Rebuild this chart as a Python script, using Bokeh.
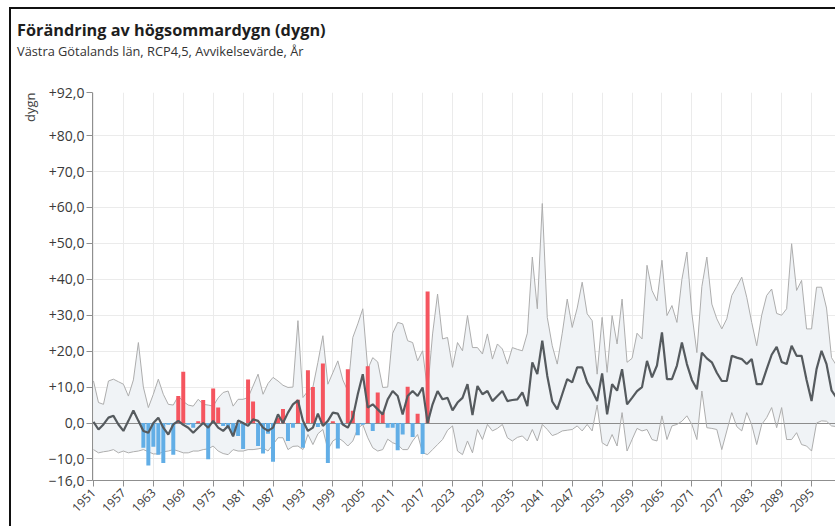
from math import pi
from bokeh.plotting import figure
from bokeh.models import FixedTicker, Div, ColumnDataSource, Range1d, Title
from bokeh.layouts import column
from bokeh.embed import file_html
from bokeh.resources import INLINE

FONT = "Open Sans"

years = list(range(1951, 2101))

median = [
    0.3, -1.8, -0.4, 1.5, 2.0, -0.4, -2.2, 0.6, 3.5, 0.6,
    -2.2, -2.7, 0.0, 1.5, -1.3, -3.2, -0.4, 0.6, -0.5, -1.3,
    -2.7, -1.3, 0.0, -1.3, 0.6, -1.3, -2.2, -0.8, -3.7, 0.7,
    0.0, -0.8, 1.0, 0.6, -1.3, -2.2, -1.3, 2.4, 0.0, 2.9,
    5.2, 6.3, 0.6, -2.2, -1.3, 2.6, -0.8, 0.6, 2.9, 2.6,
    -0.4, -1.3, 1.5, 8.0, 13.6, 4.3, 5.2, 3.8, 2.4, 6.6,
    8.9, 7.5, 2.4, 7.5, 8.9, 7.5, 9.9, 0.0, 5.2, 8.9,
    6.6, 7.0, 3.5, 5.7, 7.0, 10.8, 2.2, 10.3, 8.0, 8.9,
    6.1, 7.5, 8.9, 6.1, 6.4, 6.6, 8.5, 4.7, 16.9, 13.6,
    22.9, 13.1, 6.0, 3.8, 8.0, 12.2, 11.3, 15.5, 15.5, 11.3,
    9.0, 6.1, 13.8, 2.4, 10.8, 9.0, 15.0, 5.2, 7.0, 8.9,
    10.0, 17.3, 12.7, 16.0, 25.2, 12.2, 12.2, 16.0, 22.4, 16.4,
    12.0, 9.4, 19.6, 18.0, 16.9, 14.0, 11.7, 11.7, 18.7, 18.2,
    17.8, 16.4, 17.8, 10.8, 10.8, 15.0, 19.0, 21.2, 17.0, 16.4,
    21.5, 18.7, 18.7, 12.0, 6.1, 15.0, 20.1, 16.4, 9.1, 7.0,
]

upper = [
    11.7, 5.7, 5.2, 11.7, 12.2, 11.5, 10.8, 7.5, 12.0, 22.4,
    10.0, 4.3, 8.0, 12.2, 8.0, 5.2, 5.0, 7.5, 6.0, 5.0,
    4.7, 6.6, 5.2, 5.0, 4.7, 7.0, 8.5, 8.9, 4.7, 6.6,
    6.6, 7.1, 10.3, 13.6, 8.0, 11.0, 12.7, 11.7, 10.5, 9.9,
    10.0, 28.5, 7.1, 8.9, 10.0, 16.9, 24.3, 10.8, 14.0, 17.3,
    12.0, 8.9, 23.8, 27.6, 31.8, 15.0, 18.2, 17.0, 9.9, 10.0,
    25.0, 28.0, 27.6, 22.9, 22.4, 17.3, 20.1, 8.9, 24.8, 35.9,
    23.4, 23.8, 15.5, 22.4, 20.1, 29.9, 21.0, 21.0, 19.2, 24.8,
    17.8, 22.0, 20.6, 16.4, 21.0, 20.5, 20.1, 25.0, 46.2, 31.8,
    61.1, 29.4, 21.5, 16.4, 25.0, 34.5, 26.6, 32.0, 39.2, 30.4,
    28.5, 13.6, 29.4, 14.1, 29.9, 22.0, 34.5, 16.9, 18.0, 25.0,
    23.4, 43.9, 36.9, 34.0, 45.3, 29.9, 32.7, 28.0, 40.0, 47.6,
    30.4, 19.6, 38.0, 46.2, 33.1, 29.0, 26.2, 29.0, 35.5, 38.0,
    40.6, 35.0, 28.0, 21.5, 30.0, 35.5, 37.3, 30.5, 30.0, 31.8,
    49.9, 36.9, 39.7, 26.2, 26.2, 37.8, 37.8, 32.0, 18.2, 16.0,
]

lower = [
    -7.4, -8.3, -8.0, -7.8, -7.4, -8.3, -7.8, -8.3, -8.0, -7.8,
    -7.4, -8.0, -8.6, -8.6, -8.0, -7.8, -7.4, -7.8, -8.3, -8.3,
    -7.8, -7.8, -7.4, -7.2, -6.4, -7.8, -8.5, -8.8, -7.4, -7.8,
    -7.8, -7.4, -7.4, -7.2, -6.9, -7.8, -6.0, -4.1, -4.1, -7.4,
    -6.5, -6.4, -7.4, -3.2, -6.0, -3.0, -1.8, -7.4, -5.0, -4.1,
    -5.0, -6.4, -5.0, -1.5, -0.4, -4.1, -6.9, -7.8, -7.4, -4.5,
    -5.5, -6.0, -7.4, -7.4, -5.0, -3.2, -8.3, -8.8, -7.4, -6.0,
    -4.6, -2.0, -0.8, -7.8, -8.8, -5.0, -8.3, -1.8, -4.6, -0.4,
    -2.2, -1.5, -0.4, -4.1, -5.0, -4.0, -3.6, -5.0, -1.8, -5.0,
    -0.4, -1.8, -3.5, -3.0, -2.2, -2.0, -1.8, -0.8, -2.2, -0.4,
    -2.2, 5.0, -5.5, -6.4, -3.2, -6.4, 2.9, -7.8, -4.6, -1.5,
    -2.2, -1.8, -4.6, -5.0, 2.0, -4.6, -0.8, -0.4, 0.5, 2.0,
    -0.4, -4.6, 8.9, -1.3, -1.5, -1.8, -7.4, -2.2, 2.9, -1.0,
    -2.2, 2.9, -0.5, -6.0, -0.4, 1.5, 4.3, -1.3, 4.3, -4.6,
    -4.6, -2.7, -6.0, -6.4, -7.8, 0.0, 0.6, 0.5, -0.8, -1.0,
]

obs_years = list(range(1961, 2019))
obs_values = [
    -6.9, -11.8, -6.6, -8.8, -11.1, -0.5, -8.8, 7.5, 14.3, -0.5,
    -1.3, 0.5, 6.4, -10.1, 9.6, 4.3, -0.8, -1.5, -3.4, -3.6,
    -7.2, 12.1, 6.0, -6.4, -8.5, -3.0, -10.8, 1.5, 3.9, -5.0,
    -1.3, 6.5, -6.9, 14.7, 10.0, -1.1, 16.6, -11.1, 0.5, -7.1,
    -0.5, 15.0, 3.4, -3.4, -0.5, 15.8, -2.2, 8.5, 3.0, -1.3,
    -1.3, -7.6, -3.2, 10.1, -3.9, 2.6, -8.6, 36.6,
]

x_ticks = list(range(1951, 2100, 6))
y_ticks = [-16, -10, 0, 10, 20, 30, 40, 50, 60, 70, 80, 92]


def fmt(v):
    if v > 0:
        return "+%d,0" % v
    if v < 0:
        return "\u2212%d,0" % (-v)
    return "0,0"


RED = "#f5555f"
BLUE = "#62aee6"

p = figure(
    width=824, height=454,
    x_range=Range1d(1950.8, 2099.8), y_range=Range1d(-16, 92),
    output_backend="svg", toolbar_location=None,
    min_border_left=79, min_border_right=0, min_border_top=20, min_border_bottom=46,
    margin=(0, 0, 0, 0),
)
p.outline_line_color = None
p.background_fill_color = "white"
p.border_fill_color = "white"

src = ColumnDataSource(dict(x=years, med=median, up=upper, lo=lower))
p.varea(x="x", y1="lo", y2="up", source=src, fill_color="#f0f3f6", fill_alpha=1.0)
p.hspan(y=[0], line_color="#8c8c8c", line_width=1)
p.line(x="x", y="up", source=src, line_color="#adadad", line_width=1)
p.line(x="x", y="lo", source=src, line_color="#adadad", line_width=1)

bar_colors = [RED if v >= 0 else BLUE for v in obs_values]
p.vbar(x=obs_years, top=obs_values, bottom=0, width=0.8, fill_color=bar_colors, line_color=None)

p.line(x="x", y="med", source=src, line_color="#555a5e", line_width=2.2)

# axes
p.xaxis.ticker = FixedTicker(ticks=x_ticks)
p.yaxis.ticker = FixedTicker(ticks=y_ticks)
p.yaxis.major_label_overrides = {v: fmt(v) for v in y_ticks}
p.xaxis.major_label_orientation = pi / 4
for ax in (p.xaxis, p.yaxis):
    ax.axis_line_color = "#8f8f8f"
    ax.major_tick_line_color = "#8f8f8f"
    ax.major_tick_out = 6
    ax.major_tick_in = 0
    ax.minor_tick_line_color = None
    ax.major_label_text_font = FONT
    ax.major_label_text_color = "#3a3a3a"
p.yaxis.major_label_text_font_size = "14px"
p.xaxis.major_label_text_font_size = "12px"
p.yaxis.major_label_standoff = 2
p.xaxis.major_label_standoff = 4

p.xgrid.grid_line_color = "#ebebeb"
p.ygrid.grid_line_color = "#ebebeb"

p.add_layout(Title(text="dygn", align="right", text_font=FONT, text_font_size="13px",
                   text_font_style="normal", text_color="#444", standoff=14), "left")

header = Div(
    text=(
        '<div style="font-family:\'Open Sans\';padding-left:6px;">'
        '<div style="font-size:16.3px;font-weight:bold;color:#1e1e1e;line-height:20px;margin-top:11px;white-space:nowrap;">'
        'Förändring av högsommardygn (dygn)</div>'
        '<div style="font-size:12.8px;color:#333;line-height:16px;margin-top:3px;white-space:nowrap;">'
        'Västra Götalands län, RCP4,5, Avvikelsevärde, År</div>'
        '</div>'
    ),
    width=824, height=63, margin=(0, 0, 0, 0),
)

layout = column(header, p, spacing=0, margin=(7, 0, 0, 9),
                styles={"border-left": "2px solid #111", "border-top": "2px solid #111"})

open("out.html", "w").write(file_html(layout, INLINE))
